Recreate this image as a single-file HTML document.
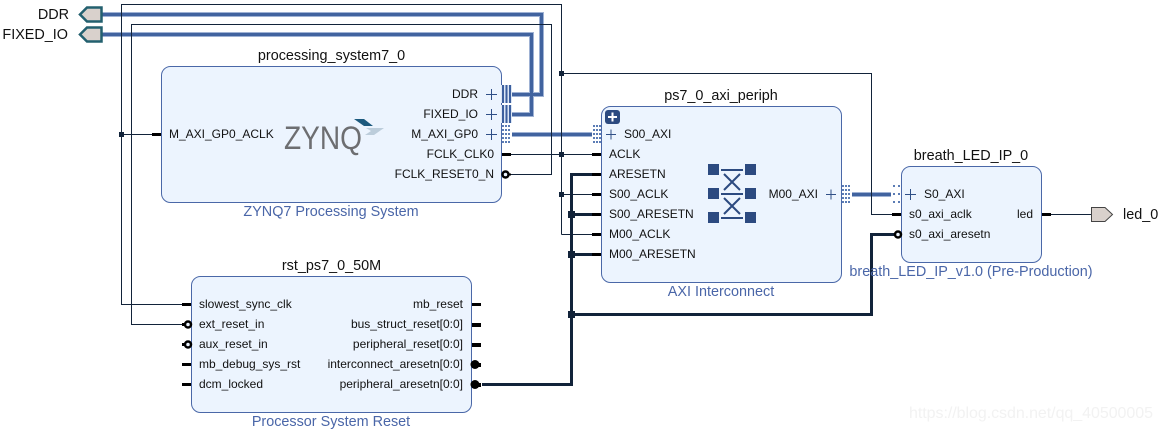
<!DOCTYPE html>
<html><head><meta charset="utf-8"><style>
html,body{margin:0;padding:0;background:#fff}
svg{display:block}
text{font-family:"Liberation Sans",sans-serif;font-size:12px;fill:#111}
.t{font-size:14.4px}
.b{font-size:14.4px;fill:#4a66a8}
.e{text-anchor:end}
.m{text-anchor:middle}
.box{fill:#ecf4fe;stroke:#4a68a8;stroke-width:1}
.thin{fill:none;stroke:#12233a;stroke-width:1}
.thick{fill:none;stroke:#12233a;stroke-width:3}
.bus{fill:none;stroke:#9fb2d4;stroke-width:5}
.bus2{fill:none;stroke:#41639f;stroke-width:3}
.plus{stroke:#2f4f87;stroke-width:1;fill:none}
.stub{fill:#000}
.j{fill:#12233a}
.dot{fill:#ecf4fe;stroke:#000;stroke-width:2.5}
.x{fill:#2c4a80}
</style></head><body>
<svg width="1162" height="431" viewBox="0 0 1162 431" xmlns="http://www.w3.org/2000/svg">
<!-- boxes -->
<rect class="box" x="161.5" y="66.5" width="340" height="136" rx="9"/>
<rect class="box" x="601.5" y="106.5" width="240" height="176" rx="9"/>
<rect class="box" x="901.5" y="166.5" width="140" height="96" rx="9"/>
<rect class="box" x="191.5" y="276.5" width="280" height="136" rx="9"/>

<!-- buses -->
<path class="bus" d="M102 14.500H541.500V94.500H512"/>
<path class="bus" d="M102 34.500H531.500V114.500H512"/>
<path class="bus" d="M512 134.500H592"/>
<path class="bus" d="M852 194.500H891"/>
<path class="bus2" d="M102 14.500H541.500V94.500H512"/>
<path class="bus2" d="M102 34.500H531.500V114.500H512"/>
<path class="bus2" d="M512 134.500H592"/>
<path class="bus2" d="M852 194.500H891"/>
<!-- thin wires -->
<path class="thin" d="M561.500 234.500V4.500H121.500V304.500H161"/>
<path class="thin" d="M121.500 304.500H185"/>
<path class="thin" d="M121.500 134.500H155"/>
<path class="thin" d="M505 174.500H551.500V24.500H131.500V324.500H185"/>
<path class="thin" d="M561.500 73.500H871.500V214.500H895"/>
<path class="thin" d="M505 154.500H595"/>
<path class="thin" d="M561.500 194.500H595"/>
<path class="thin" d="M561.500 234.500H595"/>
<path class="thin" d="M1048 214.500H1091"/>
<!-- thick wires -->
<path class="thick" d="M595 174.500H571.500V384.500H482"/>
<path class="thick" d="M571.500 214.500H595"/>
<path class="thick" d="M571.500 254.500H595"/>
<path class="thick" d="M571.500 314.500H871.500V234.500H895"/>
<!-- junctions -->
<g class="j">
<rect x="119" y="132" width="5" height="5"/>
<rect x="559" y="71" width="5" height="5"/>
<rect x="559" y="152" width="5" height="5"/>
<rect x="559" y="192" width="5" height="5"/>
<rect x="568" y="211" width="7" height="7"/>
<rect x="568" y="251" width="7" height="7"/>
<rect x="568" y="311" width="7" height="7"/>
</g>
<!-- external ports -->
<path d="M80 14.500L87 7.500H101.500V21.500H87Z" fill="#d9d1cc" stroke="#23606f" stroke-width="2.500"/>
<path d="M80 34.500L87 27.500H101.500V41.500H87Z" fill="#d9d1cc" stroke="#23606f" stroke-width="2.500"/>
<path d="M1091.500 207.500H1105L1112.500 214.500L1105 221.500H1091.500Z" fill="#d9d1cc" stroke="#444" stroke-width="1"/>
<text x="69" y="19" class="e" style="font-size:14.400px">DDR</text>
<text x="68" y="39" class="e" style="font-size:14.400px">FIXED_IO</text>
<text x="1123" y="219" style="font-size:14.400px">led_0</text>

<!-- titles -->
<text x="331.500" y="60" class="t m">processing_system7_0</text>
<text x="721" y="100" class="t m">ps7_0_axi_periph</text>
<text x="971" y="160" class="t m">breath_LED_IP_0</text>
<text x="331.500" y="270" class="t m">rst_ps7_0_50M</text>
<text x="331" y="216" class="b m">ZYNQ7 Processing System</text>
<text x="721" y="296" class="b m">AXI Interconnect</text>
<text x="971" y="276" class="b m">breath_LED_IP_v1.0 (Pre-Production)</text>
<text x="331" y="426" class="b m">Processor System Reset</text>

<!-- PS -->
<rect class="stub" x="152" y="133" width="9" height="3"/>
<text x="169" y="138">M_AXI_GP0_ACLK</text>
<text x="478" y="98" class="e">DDR</text>
<text x="478" y="118" class="e">FIXED_IO</text>
<text x="478" y="138" class="e">M_AXI_GP0</text>
<text x="494" y="158" class="e">FCLK_CLK0</text>
<text x="494" y="178" class="e">FCLK_RESET0_N</text>
<path class="plus" d="M486 94.500H497M491.500 89V100M486 114.500H497M491.500 109V120M486 134.500H497M491.500 129V140"/>
<!-- bus connector -->
<rect x="501" y="85" width="11" height="18" fill="#dbe6f5"/>
<rect x="501" y="105" width="11" height="18" fill="#dbe6f5"/>
<g fill="#3c5f9e">
<rect x="502" y="85" width="2" height="18"/><rect x="505.500" y="85" width="2" height="18"/><rect x="509" y="85" width="2" height="18"/>
<rect x="502" y="105" width="2" height="18"/><rect x="505.500" y="105" width="2" height="18"/><rect x="509" y="105" width="2" height="18"/>
</g>
<rect class="stub" x="502" y="153" width="9" height="3"/>
<circle class="dot" cx="505.500" cy="174.500" r="3"/>
<path stroke="#000" stroke-width="2" d="M508 174.500H511"/>
<!-- Zynq logo -->
<text x="284" y="149" textLength="78" lengthAdjust="spacingAndGlyphs" style="font-size:32px;fill:#6d6e71">ZYNQ</text>
<path d="M354 119H364L373 126H364Z" fill="#1c5a7e"/>
<path d="M366 128H384L374 135H365L371 131Z" fill="#bccddb"/>

<!-- AXI -->
<rect x="605" y="110" width="15" height="14" rx="3" fill="#2c4a80"/>
<path d="M608 117H617M612.500 112.500V121.500" stroke="#fff" stroke-width="2"/>
<path class="plus" d="M606 134.500H616M611 129.500V139.500"/>
<text x="624" y="138">S00_AXI</text>
<text x="609" y="158">ACLK</text>
<text x="609" y="178">ARESETN</text>
<text x="609" y="198">S00_ACLK</text>
<text x="609" y="218">S00_ARESETN</text>
<text x="609" y="238">M00_ACLK</text>
<text x="609" y="258">M00_ARESETN</text>
<text x="818" y="198" class="e">M00_AXI</text>
<path class="plus" d="M826 194.500H836M831 189.500V199.500"/>
<g class="stub">
<rect x="592" y="153" width="9" height="3"/>
<rect x="592" y="173" width="9" height="3"/>
<rect x="592" y="193" width="9" height="3"/>
<rect x="592" y="213" width="9" height="3"/>
<rect x="592" y="233" width="9" height="3"/>
<rect x="592" y="253" width="9" height="3"/>
</g>
<!-- crossbar icon -->
<g class="x">
<rect x="708" y="164" width="11" height="11"/><rect x="745" y="164" width="11" height="11"/>
<rect x="708" y="188" width="11" height="11"/><rect x="745" y="188" width="11" height="11"/>
<rect x="708" y="212" width="11" height="11"/><rect x="745" y="212" width="11" height="11"/>
<rect x="721" y="169" width="22" height="2"/><rect x="721" y="193" width="22" height="2"/><rect x="721" y="217" width="22" height="2"/>
</g>
<path d="M724 174L740 190M740 174L724 190M724 198L740 214M740 198L724 214" stroke="#2c4a80" stroke-width="2" fill="none"/>

<!-- Breath -->
<path class="plus" d="M905 194.500H916M910.500 189V200"/>
<text x="924" y="198">S0_AXI</text>
<text x="909" y="218">s0_axi_aclk</text>
<text x="909" y="238">s0_axi_aresetn</text>
<text x="1033" y="218" class="e">led</text>
<rect class="stub" x="892" y="213" width="9" height="3"/>
<rect class="stub" x="1042" y="213" width="9" height="3"/>
<circle class="dot" cx="898" cy="234.500" r="3"/>

<!-- RST -->
<text x="199" y="308">slowest_sync_clk</text>
<text x="199" y="328">ext_reset_in</text>
<text x="199" y="348">aux_reset_in</text>
<text x="199" y="368">mb_debug_sys_rst</text>
<text x="199" y="388">dcm_locked</text>
<text x="463" y="308" class="e">mb_reset</text>
<text x="463" y="328" class="e">bus_struct_reset[0:0]</text>
<text x="463" y="348" class="e">peripheral_reset[0:0]</text>
<text x="463" y="368" class="e">interconnect_aresetn[0:0]</text>
<text x="463" y="388" class="e">peripheral_aresetn[0:0]</text>
<g class="stub">
<rect x="182" y="303" width="9" height="3"/>
<rect x="182" y="323" width="4" height="3"/>
<rect x="182" y="343" width="4" height="3"/>
<rect x="182" y="363" width="9" height="3"/>
<rect x="182" y="383" width="9" height="3"/>
<rect x="472" y="303" width="9" height="3"/>
<rect x="472" y="323" width="9" height="4"/>
<rect x="472" y="343" width="9" height="4"/>
<rect x="472" y="363" width="9" height="4"/>
<rect x="472" y="383" width="9" height="4"/>
<circle cx="475" cy="364.500" r="4.500"/>
<circle cx="475" cy="384.500" r="4.500"/>
</g>
<circle class="dot" cx="188" cy="324.500" r="3"/>
<circle class="dot" cx="188" cy="344.500" r="3"/>

<!-- hatched bus connectors -->
<g fill="#5b7cb5">
<rect x="502" y="125" width="2" height="2"/><rect x="505" y="125" width="2" height="2"/><rect x="508" y="125" width="2" height="2"/>
<rect x="502" y="129" width="2" height="2"/><rect x="505" y="129" width="2" height="2"/><rect x="508" y="129" width="2" height="2"/>
<rect x="502" y="133" width="2" height="2"/><rect x="505" y="133" width="2" height="2"/><rect x="508" y="133" width="2" height="2"/>
<rect x="502" y="137" width="2" height="2"/><rect x="505" y="137" width="2" height="2"/><rect x="508" y="137" width="2" height="2"/>
<rect x="502" y="141" width="2" height="2"/><rect x="505" y="141" width="2" height="2"/><rect x="508" y="141" width="2" height="2"/>
<rect x="593" y="125" width="2" height="2"/><rect x="596" y="125" width="2" height="2"/><rect x="599" y="125" width="2" height="2"/>
<rect x="593" y="129" width="2" height="2"/><rect x="596" y="129" width="2" height="2"/><rect x="599" y="129" width="2" height="2"/>
<rect x="593" y="133" width="2" height="2"/><rect x="596" y="133" width="2" height="2"/><rect x="599" y="133" width="2" height="2"/>
<rect x="593" y="137" width="2" height="2"/><rect x="596" y="137" width="2" height="2"/><rect x="599" y="137" width="2" height="2"/>
<rect x="593" y="141" width="2" height="2"/><rect x="596" y="141" width="2" height="2"/><rect x="599" y="141" width="2" height="2"/>
<rect x="842" y="185" width="2" height="2"/><rect x="845" y="185" width="2" height="2"/><rect x="848" y="185" width="2" height="2"/>
<rect x="842" y="189" width="2" height="2"/><rect x="845" y="189" width="2" height="2"/><rect x="848" y="189" width="2" height="2"/>
<rect x="842" y="193" width="2" height="2"/><rect x="845" y="193" width="2" height="2"/><rect x="848" y="193" width="2" height="2"/>
<rect x="842" y="197" width="2" height="2"/><rect x="845" y="197" width="2" height="2"/><rect x="848" y="197" width="2" height="2"/>
<rect x="842" y="201" width="2" height="2"/><rect x="845" y="201" width="2" height="2"/><rect x="848" y="201" width="2" height="2"/>
<rect x="893" y="185" width="2" height="2"/><rect x="898" y="185" width="2" height="2"/>
<rect x="893" y="193" width="2" height="2"/><rect x="898" y="193" width="2" height="2"/>
<rect x="893" y="201" width="2" height="2"/><rect x="898" y="201" width="2" height="2"/>
</g>
<!-- watermark -->
<text x="909" y="418" textLength="244" style="font-size:16px;fill:#f2f2f2">https://blog.csdn.net/qq_40500005</text>
</svg>
</body></html>
